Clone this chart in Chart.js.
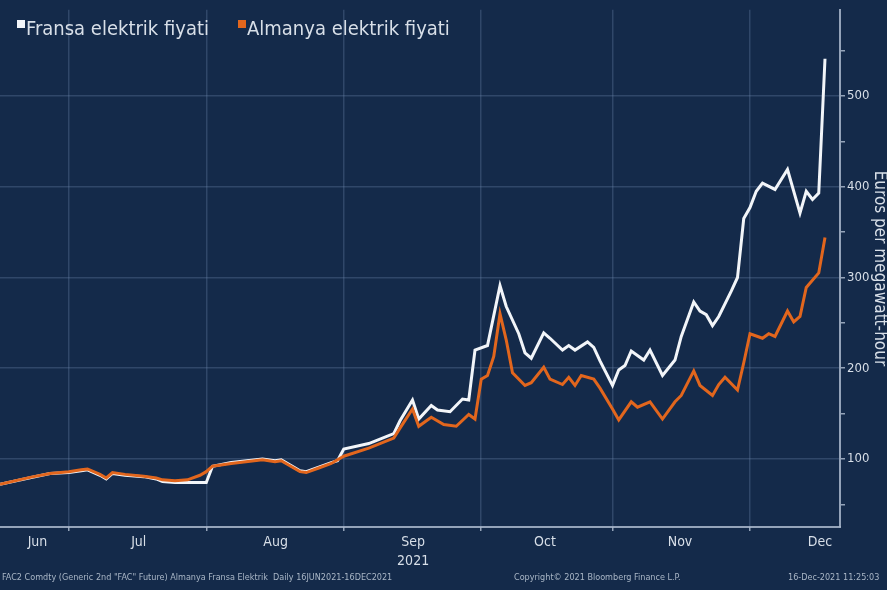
<!DOCTYPE html>
<html>
<head>
<meta charset="utf-8">
<script src="https://cdn.jsdelivr.net/npm/chart.js@4"></script>
<style>
  html, body { margin: 0; padding: 0; background: #142a4a; }
  #wrap { width: 887px; height: 590px; }
</style>
</head>
<body>
<div id="wrap"><canvas id="chart" width="887" height="590"></canvas></div>
<script>
// x = trading day since 16 Jun 2021, y = EUR/MWh
const frDays = [0, 5, 8, 11, 13, 14, 16, 17, 18, 20, 23, 25, 26, 28, 33, 34, 37, 42, 44, 45, 48, 49, 51, 53, 54, 55, 59, 63, 64, 66, 67, 69, 70, 72, 74, 75, 76, 78, 80, 81, 83, 84, 85, 87, 88, 90, 91, 92, 94, 95, 96, 98, 99, 100, 101, 103, 104, 106, 108, 109, 111, 112, 113, 114, 115, 117, 118, 119, 120, 121, 122, 124, 126, 128, 129, 130, 131, 132];
const frValues = [72, 79.5, 84, 85, 87, 88, 82, 78, 84, 82, 80.5, 78, 75, 74, 74, 92, 96, 100, 98, 99, 87, 86, 91, 96, 98, 111, 117, 128, 142, 165, 144, 159, 154, 152, 166, 165, 220, 225, 291, 268, 238, 217, 211, 239, 233, 220, 225, 220, 229, 223, 208, 181, 198, 203, 219, 209, 220, 192, 209, 235, 273, 263, 259, 247, 257, 285, 300, 365, 377, 395, 404, 397, 419, 371, 395, 386, 393, 541];

const deDays = [0, 5, 8, 11, 13, 14, 16, 17, 18, 20, 23, 25, 26, 28, 30, 32, 33, 34, 37, 42, 44, 45, 48, 49, 51, 53, 55, 59, 63, 64, 66, 67, 69, 71, 73, 75, 76, 77, 78, 79, 80, 81, 82, 84, 85, 87, 88, 90, 91, 92, 93, 95, 96, 98, 99, 101, 102, 104, 106, 108, 109, 111, 112, 114, 115, 116, 118, 119, 120, 122, 123, 124, 126, 127, 128, 129, 131, 132];
const deValues = [72, 80, 84, 86, 88, 89, 83, 79, 85, 83, 81, 79, 77, 76, 77, 82, 86, 92, 95, 99, 97, 98, 86, 85, 90, 95, 103, 112, 123, 134, 155, 136, 146, 138, 136, 149, 144, 188, 192, 213, 260, 231, 195, 181, 184, 201, 188, 182, 190, 181, 192, 188, 178, 155, 143, 163, 157, 163, 144, 163, 170, 197, 181, 170, 182, 190, 176, 206, 238, 233, 238, 235, 263, 251, 257, 289, 305, 344];

const monthLabels = [['Jun'], ['Jul'], ['Aug'], ['Sep', '2021'], ['Oct'], ['Nov'], ['Dec']];
const monthMid = [6, 22.2, 44.1, 66.1, 87.2, 108.8, 131.2];
const monthStarts = [11, 33, 55, 77, 98, 120];

const seriesNames = ['Fransa elektrik fiyati', 'Almanya elektrik fiyati'];
const footerLeft = 'FAC2 Comdty (Generic 2nd "FAC" Future) Almanya Fransa Elektrik  Daily 16JUN2021-16DEC2021';
const footerMid = 'Copyright\u00A9 2021 Bloomberg Finance L.P.';
const footerRight = '16-Dec-2021 11:25:03';

const BG = '#142a4a';
const GRID = 'rgba(110,135,170,0.32)';
const AXIS = 'rgba(170,185,205,0.85)';
const TXT = '#d8dfe8';
const WHITE = '#f2f5f9';
const ORANGE = '#e2661d';
const FONT = '"DejaVu Sans Condensed", "DejaVu Sans", sans-serif';

const toPoints = (xs, ys) => xs.map((x, i) => ({ x: x, y: ys[i] }));

const decor = {
  id: 'decor',
  beforeDraw(chart) {
    const ctx = chart.ctx;
    ctx.save();
    ctx.fillStyle = BG;
    ctx.fillRect(0, 0, chart.width, chart.height);
    ctx.restore();
  },
  afterDraw(chart) {
    const ctx = chart.ctx;
    ctx.save();
    // legend
    ctx.font = '20px ' + FONT;
    ctx.textBaseline = 'alphabetic';
    ctx.fillStyle = WHITE;
    ctx.fillRect(17, 20, 8, 8);
    ctx.fillStyle = TXT;
    ctx.fillText(seriesNames[0], 26, 35);
    ctx.fillStyle = ORANGE;
    ctx.fillRect(238, 20, 8, 8);
    ctx.fillStyle = TXT;
    ctx.fillText(seriesNames[1], 247, 35);
    // footer
    ctx.font = '9px ' + FONT;
    ctx.fillStyle = '#a9b6c6';
    ctx.fillText(footerLeft, 2, 580);
    ctx.fillText(footerMid, 514, 580);
    ctx.fillText(footerRight, 788, 580);
    ctx.restore();
  }
};

new Chart(document.getElementById('chart'), {
  type: 'line',
  data: {
    datasets: [
      {
        label: seriesNames[1],
        data: toPoints(deDays, deValues),
        borderColor: ORANGE,
        borderWidth: 3,
        pointRadius: 0,
        tension: 0
      },
      {
        label: seriesNames[0],
        data: toPoints(frDays, frValues),
        borderColor: WHITE,
        borderWidth: 3,
        pointRadius: 0,
        tension: 0
      }
    ]
  },
  options: {
    responsive: false,
    animation: false,
    devicePixelRatio: 1,
    layout: { padding: 0 },
    plugins: {
      legend: { display: false },
      tooltip: { enabled: false }
    },
    scales: {
      xg: {
        type: 'linear',
        position: 'bottom',
        min: 0,
        max: 134.4,
        weight: 0,
        afterBuildTicks: s => { s.ticks = monthStarts.map(v => ({ value: v })); },
        ticks: { display: false },
        grid: { color: GRID, lineWidth: 1.5, drawTicks: true, tickLength: 4, tickColor: AXIS },
        border: { display: false },
        afterFit: s => { s.height = 0; }
      },
      x: {
        type: 'linear',
        position: 'bottom',
        min: 0,
        max: 134.4,
        weight: 1,
        afterBuildTicks: s => { s.ticks = monthMid.map(v => ({ value: v })); },
        ticks: {
          autoSkip: false,
          maxRotation: 0,
          padding: 6,
          color: TXT,
          font: { family: FONT, size: 14, lineHeight: 1.35 },
          callback: (v, i) => monthLabels[i]
        },
        grid: { display: false, drawTicks: false },
        border: { display: true, color: AXIS, width: 2 },
        afterFit: s => { s.height = 63; }
      },
      y: {
        position: 'right',
        min: 25,
        max: 595,
        ticks: {
          stepSize: 50,
          includeBounds: false,
          autoSkip: false,
          padding: 2,
          color: TXT,
          font: { family: FONT, size: 13 },
          callback: v => (v % 100 === 0 ? v : '')
        },
        grid: {
          color: c => (c.tick && c.tick.value % 100 === 0 ? GRID : 'rgba(0,0,0,0)'),
          lineWidth: 1.5,
          tickColor: AXIS,
          tickLength: 5
        },
        border: { color: AXIS, width: 2 },
        title: {
          display: true,
          text: 'Euros per megawatt-hour',
          color: TXT,
          font: { family: FONT, size: 17 },
          padding: { top: -3, bottom: 0 }
        },
        afterFit: s => { s.width = 47; }
      }
    }
  },
  plugins: [decor]
});
</script>
</body>
</html>
